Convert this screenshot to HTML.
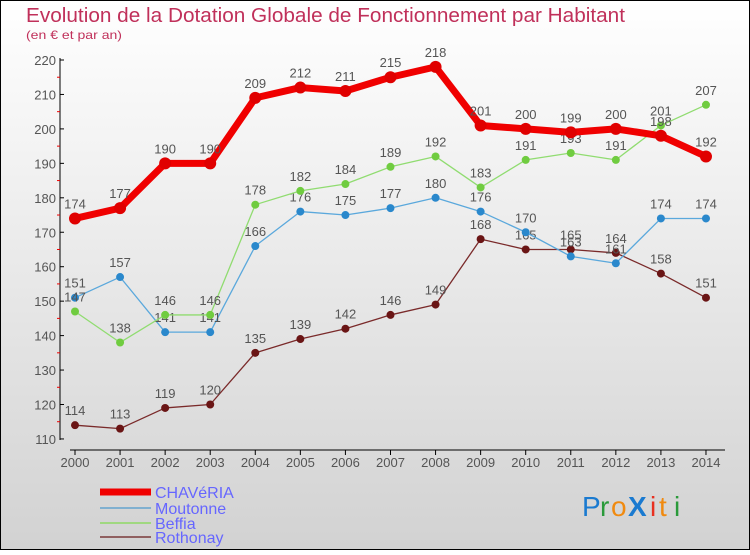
<!DOCTYPE html>
<html><head><meta charset="utf-8"><style>
body{margin:0}
#c{width:750px;height:550px;position:relative;font-family:"Liberation Sans",sans-serif}
</style></head><body>
<div id="c">
<svg id="s" width="750" height="550" xmlns="http://www.w3.org/2000/svg">
<defs><linearGradient id="bg" x1="0" y1="0" x2="0" y2="1"><stop offset="0" stop-color="#ffffff"/><stop offset="1" stop-color="#d2d2d2"/></linearGradient></defs>
<rect x="0.5" y="0.5" width="749" height="549" fill="url(#bg)" stroke="#000"/>
<text x="26" y="22" font-size="20" fill="#c0305a" textLength="599" lengthAdjust="spacingAndGlyphs">Evolution de la Dotation Globale de Fonctionnement par Habitant</text>
<text x="26" y="39" font-size="12" fill="#c0305a" textLength="96" lengthAdjust="spacingAndGlyphs">(en € et par an)</text>
<g id="axes"></g><g id="series"></g><g id="legend"></g>
<g font-size="28" font-family="Liberation Sans, sans-serif">
<text x="582" y="516" fill="#1a7ad0">P</text><text x="600" y="516" fill="#2a9a3a">r</text><text x="611" y="516" fill="#f08a10">o</text><text x="628" y="516" fill="#1a7ad0" font-weight="bold">X</text><text x="650" y="516" fill="#e83020">i</text><text x="659" y="516" fill="#f08a10">t</text><text x="674" y="516" fill="#2a9a3a">i</text>
</g>
</svg></div>
<script>
const years=["2000","2001","2002","2003","2004","2005","2006","2007","2008","2009","2010","2011","2012","2013","2014"];
const yTicks=[110,120,130,140,150,160,170,180,190,200,210,220];
const chaveria=[174,177,190,190,209,212,211,215,218,201,200,199,200,198,192];
const moutonne=[151,157,141,141,166,176,175,177,180,176,170,163,161,174,174];
const beffia=[147,138,146,146,178,182,184,189,192,183,191,193,191,201,207];
const rothonay=[114,113,119,120,135,139,142,146,149,168,165,165,164,158,151];
const NS="http://www.w3.org/2000/svg";
const X=i=>75+i*45.07, Y=v=>60+(220-v)*3.445;
function mk(t,a,p){const e=document.createElementNS(NS,t);for(const k in a)e.setAttribute(k,a[k]);p.appendChild(e);return e;}
const ax=document.getElementById('axes');
let yl=mk('line',{x1:60,y1:58,x2:60,y2:440,stroke:'#000'},ax);


yTicks.forEach(v=>{
 mk('line',{x1:60,y1:Y(v),x2:64,y2:Y(v),stroke:'#000'},ax);
 if(v<220)mk('line',{x1:57,y1:Y(v+5),x2:60,y2:Y(v+5),stroke:'#e00'},ax);
 const t=mk('text',{x:56,y:Y(v)+5,'text-anchor':'end','font-size':13,fill:'#555'},ax);t.textContent=v;
 
 
});
let xl=mk('line',{x1:70,y1:450,x2:725,y2:450,stroke:'#000'},ax);


years.forEach((y,i)=>{
 mk('line',{x1:X(i),y1:450,x2:X(i),y2:455,stroke:'#000'},ax);
 const t=mk('text',{x:X(i),y:467,'text-anchor':'middle','font-size':13,fill:'#555'},ax);t.textContent=y;
 
 
});
const ser=[["rothonay",rothonay,"#7a2a2a","#6a1515",1.3,4],["moutonne",moutonne,"#5aa8dc","#2a88cc",1.3,4],["beffia",beffia,"#90dc70","#70cc40",1.3,4],["chaveria",chaveria,"#f00000","#e00000",7,6]];
const sg=document.getElementById('series');
ser.forEach(([n,d,c,dc,w,r])=>{
 const g=mk('g',{},sg);
 
 
 mk('polyline',{points:d.map((v,i)=>X(i)+','+Y(v)).join(' '),fill:'none',stroke:c,'stroke-width':w,'stroke-linejoin':'round'},g);
 d.forEach((v,i)=>{
  const p=mk('circle',{cx:X(i),cy:Y(v),r:r,fill:dc},g);
  
  
  const t=mk('text',{x:X(i),y:Y(v)-10,'text-anchor':'middle','font-size':13,fill:'#555'},g);t.textContent=v;
  
  
 });
});
const lg=document.getElementById('legend');
[["CHAVéRIA","#f00000",7,492],["Moutonne","#80b0d0",2,508],["Beffia","#a0d880",2,523],["Rothonay","#906060",2,537]].forEach(([n,c,w,y])=>{
 const g=mk('g',{},lg);
 
 
 mk('line',{x1:100,y1:y,x2:151,y2:y,stroke:c,'stroke-width':w},g);
 const t=mk('text',{x:155,y:y+6,'font-size':16,fill:'#6666ff'},g);t.textContent=n;
});
</script>
</body></html>
